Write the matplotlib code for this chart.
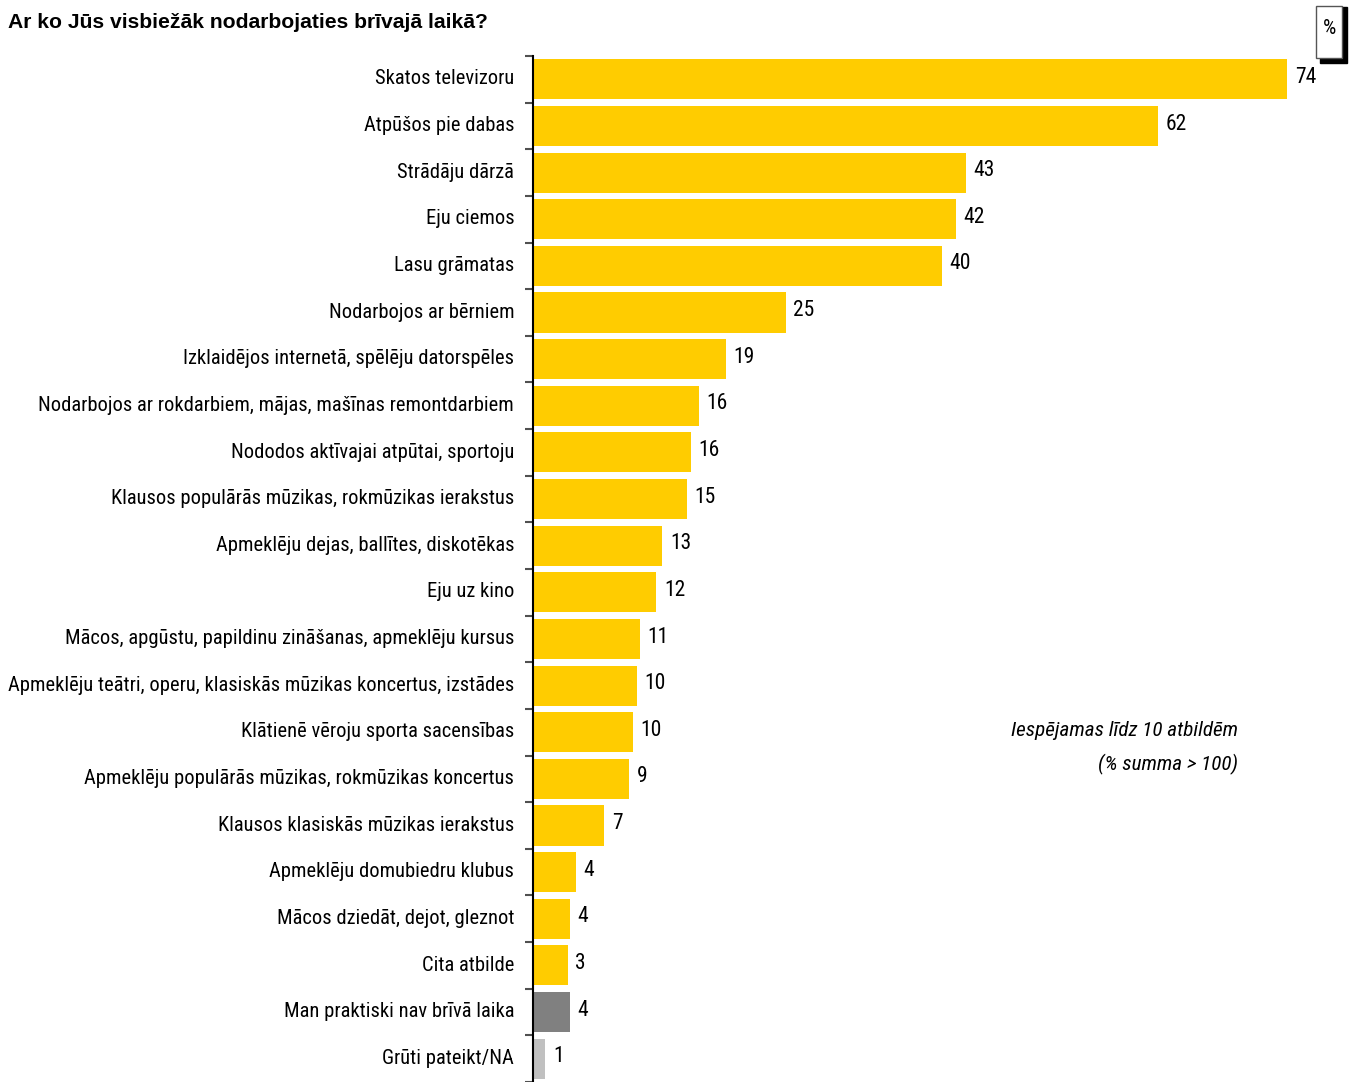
import matplotlib
matplotlib.use("Agg")
import matplotlib.pyplot as plt
from matplotlib.patches import Rectangle

NARROW = ["Roboto Condensed", "DejaVu Sans"]
BOLD = ["Liberation Sans", "DejaVu Sans"]
TW = "normal"

categories = [
    "Skatos televizoru",
    "Atpūšos pie dabas",
    "Strādāju dārzā",
    "Eju ciemos",
    "Lasu grāmatas",
    "Nodarbojos ar bērniem",
    "Izklaidējos internetā, spēlēju datorspēles",
    "Nodarbojos ar rokdarbiem, mājas, mašīnas remontdarbiem",
    "Nododos aktīvajai atpūtai, sportoju",
    "Klausos populārās mūzikas, rokmūzikas ierakstus",
    "Apmeklēju dejas, ballītes, diskotēkas",
    "Eju uz kino",
    "Mācos, apgūstu, papildinu zināšanas, apmeklēju kursus",
    "Apmeklēju teātri, operu, klasiskās mūzikas koncertus, izstādes",
    "Klātienē vēroju sporta sacensības",
    "Apmeklēju populārās mūzikas, rokmūzikas koncertus",
    "Klausos klasiskās mūzikas ierakstus",
    "Apmeklēju domubiedru klubus",
    "Mācos dziedāt, dejot, gleznot",
    "Cita atbilde",
    "Man praktiski nav brīvā laika",
    "Grūti pateikt/NA",
]
values = [74.0, 61.3, 42.5, 41.5, 40.1, 24.8, 18.9, 16.3, 15.5, 15.1, 12.7,
          12.1, 10.5, 10.2, 9.8, 9.4, 7.0, 4.2, 3.6, 3.4, 3.6, 1.2]
labels = ["74", "62", "43", "42", "40", "25", "19", "16", "16", "15", "13",
          "12", "11", "10", "10", "9", "7", "4", "4", "3", "4", "1"]
colors = ["#FFCC00"] * 20 + ["#808080", "#C0C0C0"]

W, H = 1353, 1082
fig = plt.figure(figsize=(W / 100, H / 100), dpi=100)
ax = fig.add_axes([533 / W, 0, (80 * 10.19) / W, 1 - 56 / H])

y = list(range(len(categories)))
ax.barh(y, values, height=0.86, color=colors, zorder=2)
ax.set_ylim(len(categories) - 0.5, -0.5)
ax.set_xlim(0, 80)

for yi, v, lab in zip(y, values, labels):
    ax.text(v + 0.75, yi - 0.04, lab, va="center", ha="left", fontsize=15.5,
            family=NARROW, fontweight=TW, color="black")

ax.set_yticks([yi - 0.05 for yi in y])
ax.set_yticklabels(categories, family=NARROW, fontweight=TW, fontsize=14.8)
ax.tick_params(axis="y", length=0, pad=13.5)
ax.set_yticks([i - 0.5 for i in range(len(categories) + 1)], minor=True)
ax.tick_params(axis="y", which="minor", length=6, width=1.5, color="#505050", direction="out")
ax.set_xticks([])
for s in ["top", "right", "bottom"]:
    ax.spines[s].set_visible(False)
ax.spines["left"].set_linewidth(1.5)
ax.spines["left"].set_color("black")

fig.text(8 / W, 1 - 23 / H, "Ar ko Jūs visbiežāk nodarbojaties brīvajā laikā?",
         family=BOLD, fontweight="bold", fontsize=15.2, va="center", ha="left")

fig.text(1238 / W, 1 - 731 / H, "Iespējamas līdz 10 atbildēm", family=NARROW,
         fontweight=TW, style="italic", fontsize=15.2, ha="right", va="center")
fig.text(1238 / W, 1 - 764 / H, "(% summa > 100)", family=NARROW,
         fontweight=TW, style="italic", fontsize=15.2, ha="right", va="center")

# % box with shadow
fig.patches.append(Rectangle((1320 / W, 1 - 63 / H), 27 / W, 56 / H,
                             transform=fig.transFigure, facecolor="black",
                             edgecolor="black", zorder=5))
fig.patches.append(Rectangle((1316 / W, 1 - 58 / H), 26 / W, 52 / H,
                             transform=fig.transFigure, facecolor="white",
                             edgecolor="#555555", linewidth=1, zorder=6))
fig.text(1329 / W, 1 - 29 / H, "%", family=NARROW, fontweight=TW, fontsize=15,
         ha="center", va="center", zorder=7)

fig.savefig("out.png", dpi=100)
